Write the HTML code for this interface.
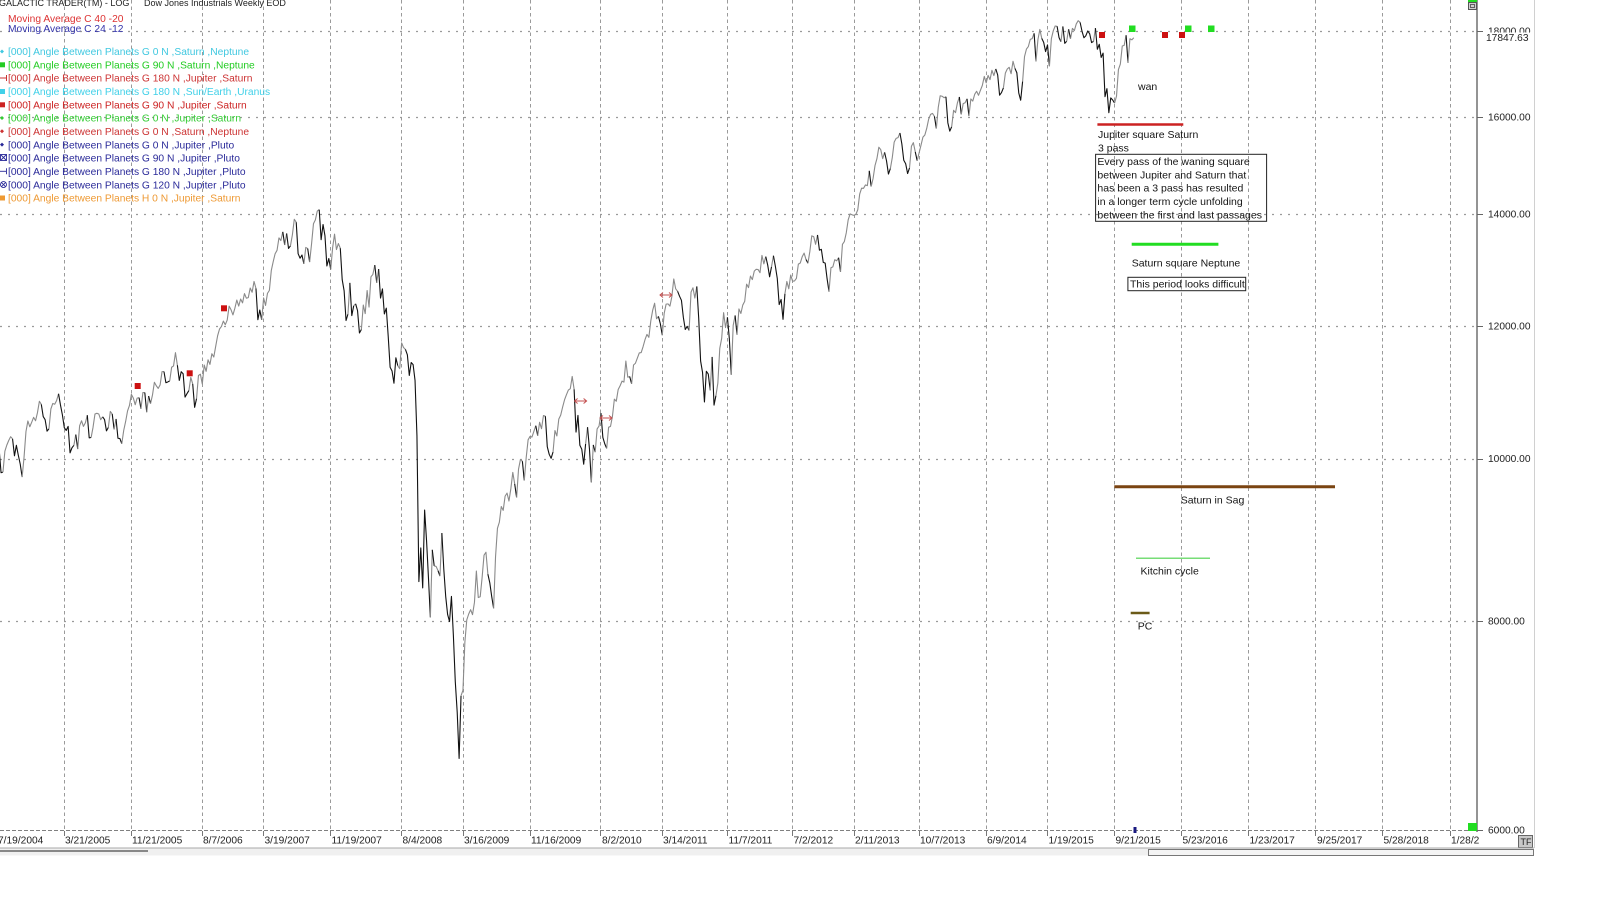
<!DOCTYPE html>
<html><head><meta charset="utf-8">
<style>
html,body{margin:0;padding:0;background:#fff;}
body{width:1600px;height:908px;overflow:hidden;position:relative;}
svg{position:absolute;left:0;top:0;}
text{font-family:"Liberation Sans",Arial,sans-serif;}
</style></head>
<body>
<svg width="1600" height="908" viewBox="0 0 1600 908" xmlns="http://www.w3.org/2000/svg">
<rect x="0" y="0" width="1600" height="908" fill="#fff"/>
<!-- vertical dashed gridlines -->
<g stroke="#9a9a9a" stroke-width="1" stroke-dasharray="3.5 3">
<line x1="64.5" y1="0" x2="64.5" y2="831"/><line x1="131.5" y1="0" x2="131.5" y2="831"/>
<line x1="202.5" y1="0" x2="202.5" y2="831"/><line x1="263.5" y1="0" x2="263.5" y2="831"/>
<line x1="330.5" y1="0" x2="330.5" y2="831"/><line x1="401.5" y1="0" x2="401.5" y2="831"/>
<line x1="463.5" y1="0" x2="463.5" y2="831"/><line x1="530.5" y1="0" x2="530.5" y2="831"/>
<line x1="600.5" y1="0" x2="600.5" y2="831"/><line x1="662.5" y1="0" x2="662.5" y2="831"/>
<line x1="727.5" y1="0" x2="727.5" y2="831"/><line x1="792.5" y1="0" x2="792.5" y2="831"/>
<line x1="854.5" y1="0" x2="854.5" y2="831"/><line x1="919.5" y1="0" x2="919.5" y2="831"/>
<line x1="986.5" y1="0" x2="986.5" y2="831"/><line x1="1047.5" y1="0" x2="1047.5" y2="831"/>
<line x1="1114.5" y1="0" x2="1114.5" y2="831"/><line x1="1181.5" y1="0" x2="1181.5" y2="831"/>
<line x1="1248.5" y1="0" x2="1248.5" y2="831"/><line x1="1315.5" y1="0" x2="1315.5" y2="831"/>
<line x1="1382.5" y1="0" x2="1382.5" y2="831"/><line x1="1450.5" y1="0" x2="1450.5" y2="831"/>
</g>
<!-- ticks under axis -->
<g stroke="#777" stroke-width="1">
<line x1="64.5" y1="831" x2="64.5" y2="836"/><line x1="131.5" y1="831" x2="131.5" y2="836"/>
<line x1="202.5" y1="831" x2="202.5" y2="836"/><line x1="263.5" y1="831" x2="263.5" y2="836"/>
<line x1="330.5" y1="831" x2="330.5" y2="836"/><line x1="401.5" y1="831" x2="401.5" y2="836"/>
<line x1="463.5" y1="831" x2="463.5" y2="836"/><line x1="530.5" y1="831" x2="530.5" y2="836"/>
<line x1="600.5" y1="831" x2="600.5" y2="836"/><line x1="662.5" y1="831" x2="662.5" y2="836"/>
<line x1="727.5" y1="831" x2="727.5" y2="836"/><line x1="792.5" y1="831" x2="792.5" y2="836"/>
<line x1="854.5" y1="831" x2="854.5" y2="836"/><line x1="919.5" y1="831" x2="919.5" y2="836"/>
<line x1="986.5" y1="831" x2="986.5" y2="836"/><line x1="1047.5" y1="831" x2="1047.5" y2="836"/>
<line x1="1114.5" y1="831" x2="1114.5" y2="836"/><line x1="1181.5" y1="831" x2="1181.5" y2="836"/>
<line x1="1248.5" y1="831" x2="1248.5" y2="836"/><line x1="1315.5" y1="831" x2="1315.5" y2="836"/>
<line x1="1382.5" y1="831" x2="1382.5" y2="836"/><line x1="1450.5" y1="831" x2="1450.5" y2="836"/>
</g>
<!-- horizontal dotted gridlines -->
<g stroke="#9a9a9a" stroke-width="1.2" stroke-dasharray="2 6">
<line x1="0" y1="31.5" x2="1477" y2="31.5"/>
<line x1="0" y1="117.5" x2="1477" y2="117.5"/>
<line x1="0" y1="214.5" x2="1477" y2="214.5"/>
<line x1="0" y1="326.5" x2="1477" y2="326.5"/>
<line x1="0" y1="459.5" x2="1477" y2="459.5"/>
<line x1="0" y1="621.5" x2="1477" y2="621.5"/>
</g>
<line x1="0" y1="830.5" x2="1477" y2="830.5" stroke="#808080" stroke-width="1" stroke-dasharray="4 2"/>

<!-- right axis -->
<line x1="1477" y1="0" x2="1477" y2="832" stroke="#707070" stroke-width="1.5"/>
<line x1="1534.5" y1="0" x2="1534.5" y2="848" stroke="#d0d0d0" stroke-width="1"/>
<g stroke="#666" stroke-width="1">
<line x1="1477" y1="31.5" x2="1483" y2="31.5"/><line x1="1477" y1="117.5" x2="1483" y2="117.5"/>
<line x1="1477" y1="214.5" x2="1483" y2="214.5"/><line x1="1477" y1="326.5" x2="1483" y2="326.5"/>
<line x1="1477" y1="459.5" x2="1483" y2="459.5"/><line x1="1477" y1="621.5" x2="1483" y2="621.5"/>
<line x1="1477" y1="830.5" x2="1483" y2="830.5"/>
</g>
<g font-size="10.2" fill="#222">
<text x="1488" y="34.6">18000.00</text>
<rect x="1483" y="32.5" width="50" height="11" fill="#fff"/>
<text x="1486" y="41">17847.63</text>
<text x="1488" y="120.3">16000.00</text>
<text x="1488" y="217.4">14000.00</text>
<text x="1488" y="329.6">12000.00</text>
<text x="1488" y="462.2">10000.00</text>
<text x="1488" y="624.5">8000.00</text>
<text x="1488" y="833.7">6000.00</text>
</g>

<!-- date labels -->
<g font-size="10.2" fill="#222">
<text x="-2" y="843.5">7/19/2004</text>
<text x="65" y="843.5">3/21/2005</text>
<text x="132" y="843.5">11/21/2005</text>
<text x="203" y="843.5">8/7/2006</text>
<text x="264.5" y="843.5">3/19/2007</text>
<text x="331.5" y="843.5">11/19/2007</text>
<text x="402.5" y="843.5">8/4/2008</text>
<text x="464" y="843.5">3/16/2009</text>
<text x="531" y="843.5">11/16/2009</text>
<text x="602" y="843.5">8/2/2010</text>
<text x="663" y="843.5">3/14/2011</text>
<text x="728.5" y="843.5">11/7/2011</text>
<text x="793.5" y="843.5">7/2/2012</text>
<text x="855" y="843.5">2/11/2013</text>
<text x="920" y="843.5">10/7/2013</text>
<text x="987" y="843.5">6/9/2014</text>
<text x="1048.5" y="843.5">1/19/2015</text>
<text x="1115.5" y="843.5">9/21/2015</text>
<text x="1182.5" y="843.5">5/23/2016</text>
<text x="1249.5" y="843.5">1/23/2017</text>
<text x="1317" y="843.5">9/25/2017</text>
<text x="1383.5" y="843.5">5/28/2018</text>
<text x="1451" y="843.5">1/28/2</text>
</g>
<!-- TF box -->
<rect x="1518.5" y="835.5" width="14" height="12" fill="#c8c8c8" stroke="#666" stroke-width="1"/>
<text x="1520.5" y="845" font-size="9" fill="#222">TF</text>
<!-- bottom scroll area -->
<line x1="0" y1="848" x2="1534" y2="848" stroke="#a8a8a8" stroke-width="1"/>
<rect x="0" y="848.5" width="1534" height="7" fill="#f0f0f0"/>
<line x1="0" y1="851" x2="148" y2="851" stroke="#888" stroke-width="2"/>
<rect x="1148.5" y="849.5" width="385" height="6" fill="#f4f4f4" stroke="#777" stroke-width="1"/>

<!-- top right icon -->
<rect x="1468" y="0" width="9" height="2.5" fill="#22dd22"/>
<rect x="1468.5" y="2.5" width="8" height="7" fill="#cfcfcf" stroke="#555" stroke-width="1"/>
<rect x="1470.5" y="4.5" width="4" height="3" fill="none" stroke="#444" stroke-width="0.8"/>

<!-- titles -->
<g font-size="9" fill="#222">
<text x="-1" y="6">GALACTIC TRADER(TM) - LOG</text>
<text x="144" y="6">Dow Jones Industrials Weekly EOD</text>
</g>
<g font-size="10.25">
<text x="8" y="22" fill="#dd3333">Moving Average C 40 -20</text>
<text x="8" y="32" fill="#3333aa">Moving Average C 24 -12</text>
<text x="8" y="55" fill="#40c8e0">[000] Angle Between Planets G 0 N ,Saturn ,Neptune</text>
<text x="8" y="68.3" fill="#22cc22">[000] Angle Between Planets G 90 N ,Saturn ,Neptune</text>
<text x="8" y="81.7" fill="#cc3333">[000] Angle Between Planets G 180 N ,Jupiter ,Saturn</text>
<text x="8" y="95" fill="#40d0e8">[000] Angle Between Planets G 180 N ,Sun/Earth ,Uranus</text>
<text x="8" y="108.3" fill="#cc2222">[000] Angle Between Planets G 90 N ,Jupiter ,Saturn</text>
<text x="8" y="121.7" fill="#33cc33">[000] Angle Between Planets G 0 N ,Jupiter ,Saturn</text>
<text x="8" y="135" fill="#cc3333">[000] Angle Between Planets G 0 N ,Saturn ,Neptune</text>
<text x="8" y="148.3" fill="#2a2a99">[000] Angle Between Planets G 0 N ,Jupiter ,Pluto</text>
<text x="8" y="161.7" fill="#2a2a99">[000] Angle Between Planets G 90 N ,Jupiter ,Pluto</text>
<text x="8" y="175" fill="#2a2a99">[000] Angle Between Planets G 180 N ,Jupiter ,Pluto</text>
<text x="8" y="188.3" fill="#2a2a99">[000] Angle Between Planets G 120 N ,Jupiter ,Pluto</text>
<text x="8" y="201.7" fill="#ee9933">[000] Angle Between Planets H 0 N ,Jupiter ,Saturn</text>
</g>
<!-- legend markers -->
<polygon points="2,49.5 4,51.5 2,53.5 0,51.5" fill="#40c8e0"/>
<rect x="0" y="62.3" width="5" height="5" fill="#22cc22"/>
<g stroke="#cc3333" stroke-width="1"><line x1="0" y1="78" x2="6" y2="78"/><line x1="6.5" y1="75" x2="6.5" y2="81"/></g>
<rect x="0" y="89" width="5" height="5" fill="#40d0e8"/>
<rect x="0" y="102.3" width="5" height="5" fill="#cc2222"/>
<polygon points="2,116 4,118 2,120 0,118" fill="#33cc33"/>
<polygon points="2,129.3 4,131.3 2,133.3 0,131.3" fill="#cc3333"/>
<polygon points="2,142.6 4,144.6 2,146.6 0,144.6" fill="#2a2a99"/>
<g stroke="#2a2a99" stroke-width="0.9" fill="none">
<rect x="0.5" y="154.5" width="6" height="6"/><line x1="0.5" y1="154.5" x2="6.5" y2="160.5"/><line x1="6.5" y1="154.5" x2="0.5" y2="160.5"/>
<line x1="0" y1="171.3" x2="6" y2="171.3"/><line x1="6.5" y1="168.3" x2="6.5" y2="174.3"/>
<circle cx="3.5" cy="184.6" r="3"/><line x1="1.5" y1="182.6" x2="5.5" y2="186.6"/><line x1="5.5" y1="182.6" x2="1.5" y2="186.6"/>
</g>
<rect x="0" y="195.5" width="5" height="5" fill="#ee9933"/>

<!-- price series -->
<g id="price"></g>

<!-- chart markers -->
<g fill="#cc1111">
<rect x="134.7" y="383" width="6" height="6"/>
<rect x="186.7" y="370.3" width="6" height="6"/>
<rect x="221" y="305.3" width="6" height="6"/>
<rect x="1099" y="32" width="6" height="6"/>
<rect x="1162" y="32" width="6" height="6"/>
<rect x="1179" y="32" width="6" height="6"/>
</g>
<g fill="#22dd22">
<rect x="1129" y="25.5" width="6.5" height="6.5"/>
<rect x="1185" y="25.5" width="6.5" height="6.5"/>
<rect x="1208" y="25.5" width="6.5" height="6.5"/>
<rect x="1468" y="823" width="9" height="8"/>
</g>
<rect x="1133.5" y="827" width="3" height="6" fill="#1a1a80"/>
<g stroke="#c45050" stroke-width="1" fill="none">
<line x1="574.6" y1="401" x2="586.6" y2="401"/><polyline points="577.6,398.5 574.6,401 577.6,403.5"/><polyline points="583.6,398.5 586.6,401 583.6,403.5"/>
<line x1="600" y1="418" x2="612" y2="418"/><polyline points="603,415.5 600,418 603,420.5"/><polyline points="609,415.5 612,418 609,420.5"/>
<line x1="660" y1="295" x2="672" y2="295"/><polyline points="663,292.5 660,295 663,297.5"/><polyline points="669,292.5 672,295 669,297.5"/>
</g>

<!-- annotations -->
<line x1="1097.4" y1="124.5" x2="1183.3" y2="124.5" stroke="#cc2222" stroke-width="2.5"/>
<line x1="1131.7" y1="244.3" x2="1218.4" y2="244.3" stroke="#22dd22" stroke-width="3"/>
<line x1="1114.3" y1="486.7" x2="1335" y2="486.7" stroke="#7a4412" stroke-width="3"/>
<line x1="1136" y1="558.3" x2="1210" y2="558.3" stroke="#77dd77" stroke-width="1.5"/>
<line x1="1130.7" y1="613" x2="1149.6" y2="613" stroke="#6b5a18" stroke-width="2.5"/>
<rect x="1095.6" y="154.3" width="171" height="67" fill="none" stroke="#222" stroke-width="1"/>
<rect x="1127.9" y="277.3" width="117.8" height="13.4" fill="none" stroke="#222" stroke-width="1"/>
<g font-size="10.5" fill="#151515">
<text x="1138" y="90">wan</text>
<text x="1098" y="138">Jupiter square Saturn</text>
<text x="1098" y="151.3">3 pass</text>
<text x="1097.4" y="165">Every pass of the waning square</text>
<text x="1097.4" y="178.3">between Jupiter and Saturn that</text>
<text x="1097.4" y="191.7">has been a 3 pass has resulted</text>
<text x="1097.4" y="205">in a longer term cycle unfolding</text>
<text x="1097.4" y="218.3">between the first and last passages</text>
<text x="1131.7" y="266.4">Saturn square Neptune</text>
<text x="1130" y="287.4">This period looks difficult</text>
<text x="1180.7" y="503.7">Saturn in Sag</text>
<text x="1140.5" y="574.3">Kitchin cycle</text>
<text x="1137.7" y="629.4">PC</text>
</g>
</svg>
<script>
(function(){
var v=[10140,9962,10140,9815,9825,10110,10195,10260,10314,10284,10047,10192,10055,9933,9757,10027,10387,10539,10456,10522,10592,10543,10661,10828,10783,
10603,10558,10393,10427,10716,10796,10785,10841,10941,10774,10629,10442,10404,10461,10087,10157,10192,10345,10140,10471,10542,10461,10513,10623,10297,10303,10449,10640,10651,10641,10558,10600,10559,10397,10447,10679,10641,10419,10569,10292,10287,10215,10403,10531,10686,10766,10932,10878,10778,10876,10883,10717,
10959,10959,10667,10907,10794,10920,11115,11062,11022,11076,11279,11280,11109,11120,11137,11347,11367,11577,11380,11144,11278,11247,10891,10942,10989,11190,11090,10739,10868,11219,11240,11088,11381,11284,11464,11392,11560,11508,11679,11850,11960,12002,12090,12031,12108,12342,12280,12194,12307,12445,12343,12463,
12398,12556,12477,12487,12653,12580,12767,12647,12114,12276,12110,12481,12354,12560,12612,12961,13120,13264,13326,13556,13507,13668,13424,13639,13360,13409,13611,13907,13851,13265,13182,13240,13079,13379,13358,13113,13442,13821,13896,14066,14093,13522,13807,13596,13043,13177,12981,13372,13626,13340,13451,13366,12800,
12606,12100,12207,12743,12182,12348,12381,12266,11894,11951,12361,12216,12610,12325,12849,12892,13058,12745,12987,12480,12638,12210,12308,11843,11347,11289,11101,11496,11370,11326,11734,11659,11628,11543,11220,11421,11388,11143,10325,8451,8852,8378,9325,8943,8497,8046,8829,8635,8629,8579,8515,9034,
8599,8281,8077,8000,8280,7850,7366,7063,6627,7224,7278,7776,8018,8083,8131,8076,8212,8575,8268,8277,8500,8763,8799,8539,8438,8280,8146,8743,9093,9171,9370,9321,9505,9544,9441,9605,9820,9665,9487,9864,9995,9972,9712,10023,10270,10318,10309,10388,10471,10328,10520,10428,
10618,10609,10172,10067,10012,10099,10402,10325,10566,10624,10742,10850,10927,10997,11018,11204,11009,10380,10620,10193,10137,9931,10212,10450,10144,9686,10198,10097,10425,10466,10654,10303,10213,10150,10448,10462,10608,10860,10829,11006,11062,11133,11118,11445,11193,11204,11092,11382,11410,11492,11573,11578,
11675,11787,11871,11824,12092,12273,12391,12130,12169,12044,11858,12220,12376,12380,12342,12505,12811,12639,12596,12512,12441,12151,11952,12004,11934,12582,12657,12480,12681,12143,11445,11269,10818,11285,11241,10993,11509,10772,10913,11104,11645,11809,12231,11984,12154,11796,11232,12020,12185,11867,12294,12218,
12360,12422,12721,12660,12862,12801,12950,12983,12978,12922,13233,13081,13212,13060,12850,13029,13228,13038,12821,12369,12455,12119,12555,12767,12640,12880,12773,12777,12823,13076,13096,13208,13275,13158,13091,13307,13594,13580,13437,13610,13329,13344,13107,13093,12815,12589,13010,13026,13155,13136,13191,12938,13436,
13488,13650,13896,14010,13993,13982,14001,14090,14397,14515,14512,14579,14565,14865,14548,14712,14974,15118,15355,15303,15116,15248,15071,14800,14910,15136,15464,15544,15559,15659,15425,15082,15010,14810,14923,15376,15452,15258,15073,15237,15400,15570,15615,15762,15962,16065,16086,16020,15755,16221,16479,16470,
16437,16458,15879,15699,15794,16154,16103,16322,16453,16065,16303,16323,16412,16027,16409,16361,16513,16583,16491,16606,16718,16924,16776,16948,16851,17068,16944,17100,16961,16493,16554,16663,17001,17098,17138,16988,17280,17113,17010,16544,16380,16805,17391,17573,17635,17810,17828,17958,17281,17805,18054,17833,
17737,17512,17673,17165,17825,18019,18140,18133,17856,17750,18128,17713,17763,18058,17826,18080,18025,18191,18273,18232,18011,17849,17899,18016,17947,17731,17760,18087,17569,17690,17373,17477,16460,16643,16102,16433,16385,16315,16472,17085,17216,17647,17663,17910,17245,17824,17798,17848];
var ns='http://www.w3.org/2000/svg';
var g=document.getElementById('price');
function X(i){return -4.7+1.9166*i;}
function Y(c){return 117.3+727.4*Math.log(16000/c);}
var col=[];
for(var i=0;i<v.length;i++){var s=0,n=0;for(var k=Math.max(0,i-5);k<=i;k++){s+=v[k];n++;}col.push(v[i]>=s/n?'#8a8a8a':'#111111');}
var cur=null,pts=[];
function flush(){if(pts.length<2)return;var p=document.createElementNS(ns,'polyline');p.setAttribute('points',pts.join(' '));p.setAttribute('fill','none');p.setAttribute('stroke',cur);p.setAttribute('stroke-width','1.1');p.setAttribute('stroke-linejoin','round');g.appendChild(p);}
for(var i=1;i<v.length;i++){
 var c=col[i];
 if(c!==cur){flush();cur=c;pts=[X(i-1).toFixed(2)+','+Y(v[i-1]).toFixed(2)];}
 pts.push(X(i).toFixed(2)+','+Y(v[i]).toFixed(2));
}
flush();
})();
</script>
</body></html>
